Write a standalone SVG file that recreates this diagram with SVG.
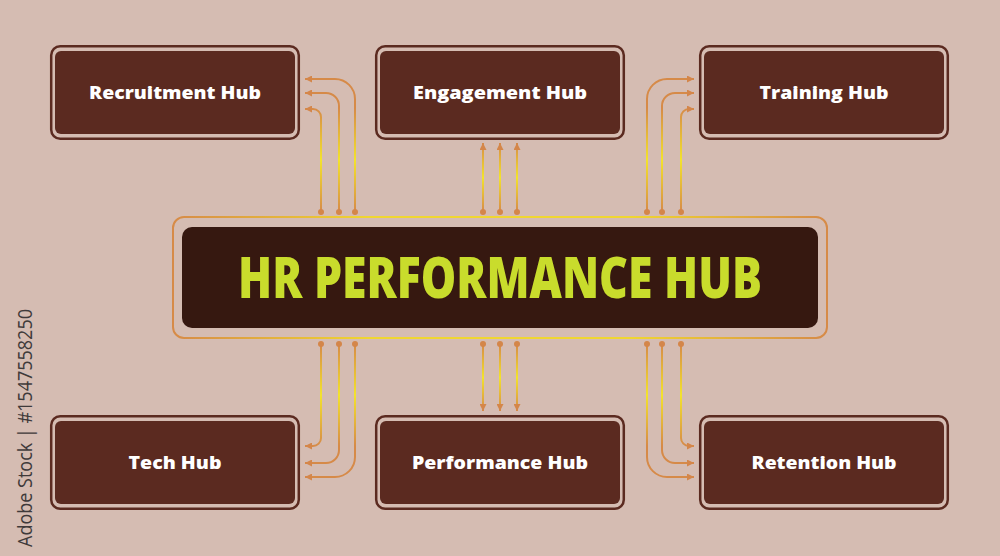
<svg xmlns="http://www.w3.org/2000/svg" width="1000" height="556" viewBox="0 0 1000 556">
<defs>
<style>
.bg{fill:#d5bcb2}
.nodeOuter{fill:none;stroke:#5b2a20;stroke-width:2.5}
.nodeInner{fill:#5b2a20}
.nodeText{font-family:"Open Sans","Liberation Sans",sans-serif;font-weight:800;font-size:17px;fill:#ffffff;text-anchor:middle}
.title{font-family:"Open Sans","Liberation Sans",sans-serif;font-weight:800;font-size:56px;fill:#c9dc2c;text-anchor:middle}
.conn{fill:none;stroke-width:2}
.dot{fill:#d4864a}
.side{font-family:"Open Sans","Liberation Sans",sans-serif;font-size:20px;fill:#3f3a3a;text-anchor:middle}
</style>
<linearGradient id="gTopSide" gradientUnits="userSpaceOnUse" x1="0" y1="108" x2="0" y2="212">
<stop offset="0" stop-color="#d68a48"/><stop offset="0.5" stop-color="#f3e32c"/><stop offset="1" stop-color="#d68a48"/>
</linearGradient>
<linearGradient id="gTopMid" gradientUnits="userSpaceOnUse" x1="0" y1="143" x2="0" y2="212">
<stop offset="0" stop-color="#d68a48"/><stop offset="0.5" stop-color="#f3e32c"/><stop offset="1" stop-color="#d68a48"/>
</linearGradient>
<linearGradient id="gBotSide" gradientUnits="userSpaceOnUse" x1="0" y1="344" x2="0" y2="446">
<stop offset="0" stop-color="#d68a48"/><stop offset="0.5" stop-color="#f3e32c"/><stop offset="1" stop-color="#d68a48"/>
</linearGradient>
<linearGradient id="gBotMid" gradientUnits="userSpaceOnUse" x1="0" y1="344" x2="0" y2="411">
<stop offset="0" stop-color="#d68a48"/><stop offset="0.5" stop-color="#f3e32c"/><stop offset="1" stop-color="#d68a48"/>
</linearGradient>
<linearGradient id="gFrame" gradientUnits="userSpaceOnUse" x1="172" y1="0" x2="828" y2="0">
<stop offset="0" stop-color="#d68a48"/><stop offset="0.3" stop-color="#f0d630"/><stop offset="0.7" stop-color="#f0d630"/><stop offset="1" stop-color="#d68a48"/>
</linearGradient>
<marker id="arr" viewBox="0 0 10 10" refX="10" refY="5" markerWidth="7" markerHeight="7" markerUnits="userSpaceOnUse" orient="auto">
<path d="M0,0 L10,5 L0,10 z" fill="#d4864a"/>
</marker>
</defs>
<rect class="bg" x="0" y="0" width="1000" height="556"/>

<text class="side" transform="translate(32,428) rotate(-90)" textLength="238" lengthAdjust="spacingAndGlyphs">Adobe Stock | #1547558250</text>

<g id="connectors">
<path class="conn" stroke="url(#gTopSide)" d="M355,212 V99 A20,20 0 0 0 335,79 H305" marker-end="url(#arr)"/>
<path class="conn" stroke="url(#gTopSide)" d="M339,212 V106 A13,13 0 0 0 326,93 H305" marker-end="url(#arr)"/>
<path class="conn" stroke="url(#gTopSide)" d="M321,212 V117 A8,8 0 0 0 313,109 H305" marker-end="url(#arr)"/>
<path class="conn" stroke="url(#gTopSide)" d="M647,212 V99 A20,20 0 0 1 667,79 H694" marker-end="url(#arr)"/>
<path class="conn" stroke="url(#gTopSide)" d="M662,212 V106 A13,13 0 0 1 675,93 H694" marker-end="url(#arr)"/>
<path class="conn" stroke="url(#gTopSide)" d="M681,212 V117 A8,8 0 0 1 689,109 H694" marker-end="url(#arr)"/>
<path class="conn" stroke="url(#gTopMid)" d="M483,212 V143" marker-end="url(#arr)"/>
<path class="conn" stroke="url(#gTopMid)" d="M500,212 V143" marker-end="url(#arr)"/>
<path class="conn" stroke="url(#gTopMid)" d="M517,212 V143" marker-end="url(#arr)"/>
<path class="conn" stroke="url(#gBotSide)" d="M321,344 V438 A8,8 0 0 1 313,446 H305" marker-end="url(#arr)"/>
<path class="conn" stroke="url(#gBotSide)" d="M339,344 V450 A13,13 0 0 1 326,463 H305" marker-end="url(#arr)"/>
<path class="conn" stroke="url(#gBotSide)" d="M355,344 V457 A20,20 0 0 1 335,477 H305" marker-end="url(#arr)"/>
<path class="conn" stroke="url(#gBotSide)" d="M681,344 V438 A8,8 0 0 0 689,446 H694" marker-end="url(#arr)"/>
<path class="conn" stroke="url(#gBotSide)" d="M662,344 V450 A13,13 0 0 0 675,463 H694" marker-end="url(#arr)"/>
<path class="conn" stroke="url(#gBotSide)" d="M647,344 V457 A20,20 0 0 0 667,477 H694" marker-end="url(#arr)"/>
<path class="conn" stroke="url(#gBotMid)" d="M483,344 V411" marker-end="url(#arr)"/>
<path class="conn" stroke="url(#gBotMid)" d="M500,344 V411" marker-end="url(#arr)"/>
<path class="conn" stroke="url(#gBotMid)" d="M517,344 V411" marker-end="url(#arr)"/>
<g class="dot">
<circle cx="321" cy="212" r="3"/><circle cx="339" cy="212" r="3"/><circle cx="355" cy="212" r="3"/>
<circle cx="483" cy="212" r="3"/><circle cx="500" cy="212" r="3"/><circle cx="517" cy="212" r="3"/>
<circle cx="647" cy="212" r="3"/><circle cx="662" cy="212" r="3"/><circle cx="681" cy="212" r="3"/>
<circle cx="321" cy="344" r="3"/><circle cx="339" cy="344" r="3"/><circle cx="355" cy="344" r="3"/>
<circle cx="483" cy="344" r="3"/><circle cx="500" cy="344" r="3"/><circle cx="517" cy="344" r="3"/>
<circle cx="647" cy="344" r="3"/><circle cx="662" cy="344" r="3"/><circle cx="681" cy="344" r="3"/>
</g>
</g>

<g id="hub">
<rect x="173" y="217" width="654" height="121" rx="11" fill="none" stroke="url(#gFrame)" stroke-width="2"/>
<rect x="182" y="227" width="636" height="101" rx="10" fill="#361810"/>
<text class="title" x="500" y="298" textLength="524" lengthAdjust="spacingAndGlyphs">HR PERFORMANCE HUB</text>
</g>

<g id="recruitment">
<rect class="nodeOuter" x="51.2" y="46.2" width="247.6" height="92.6" rx="9"/>
<rect class="nodeInner" x="55" y="51" width="240" height="83" rx="6"/>
<text class="nodeText" x="175" y="99" textLength="172" lengthAdjust="spacingAndGlyphs">Recruitment Hub</text>
</g>
<g id="engagement">
<rect class="nodeOuter" x="376.2" y="46.2" width="247.6" height="92.6" rx="9"/>
<rect class="nodeInner" x="380" y="51" width="240" height="83" rx="6"/>
<text class="nodeText" x="500" y="99" textLength="174" lengthAdjust="spacingAndGlyphs">Engagement Hub</text>
</g>
<g id="training">
<rect class="nodeOuter" x="700.2" y="46.2" width="247.6" height="92.6" rx="9"/>
<rect class="nodeInner" x="704" y="51" width="240" height="83" rx="6"/>
<text class="nodeText" x="824" y="99" textLength="129" lengthAdjust="spacingAndGlyphs">Training Hub</text>
</g>
<g id="tech">
<rect class="nodeOuter" x="51.2" y="416.2" width="247.6" height="92.6" rx="9"/>
<rect class="nodeInner" x="55" y="421" width="240" height="83" rx="6"/>
<text class="nodeText" x="175" y="469" textLength="93" lengthAdjust="spacingAndGlyphs">Tech Hub</text>
</g>
<g id="performance">
<rect class="nodeOuter" x="376.2" y="416.2" width="247.6" height="92.6" rx="9"/>
<rect class="nodeInner" x="380" y="421" width="240" height="83" rx="6"/>
<text class="nodeText" x="500" y="469" textLength="176" lengthAdjust="spacingAndGlyphs">Performance Hub</text>
</g>
<g id="retention">
<rect class="nodeOuter" x="700.2" y="416.2" width="247.6" height="92.6" rx="9"/>
<rect class="nodeInner" x="704" y="421" width="240" height="83" rx="6"/>
<text class="nodeText" x="824" y="469" textLength="145" lengthAdjust="spacingAndGlyphs">Retention Hub</text>
</g>
</svg>
